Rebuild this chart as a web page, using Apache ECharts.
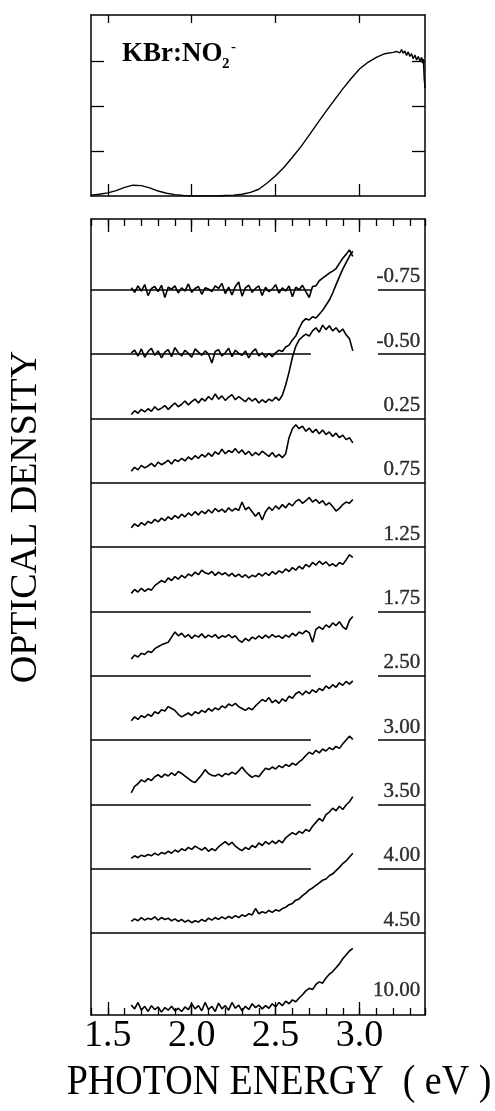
<!DOCTYPE html>
<html>
<head>
<meta charset="utf-8">
<script src="https://cdn.jsdelivr.net/npm/echarts@6/dist/echarts.min.js"></script>
<style>
html, body { margin: 0; padding: 0; background: #fff; }
#chart { width: 495px; height: 1111px; }
</style>
</head>
<body>
<div id="chart"></div>
<script>
// ---- top panel: absorption of KBr:NO2- ----
var topEnergy = [1.40, 1.45, 1.50, 1.55, 1.60, 1.65, 1.70, 1.75, 1.80, 1.85,
  1.90, 1.95, 2.00, 2.05, 2.10, 2.15, 2.20, 2.25, 2.30, 2.35,
  2.40, 2.45, 2.50, 2.55, 2.60, 2.65, 2.70, 2.75, 2.80, 2.85,
  2.90, 2.95, 3.00, 3.05, 3.10, 3.15, 3.20, 3.22, 3.24, 3.25,
  3.26, 3.27, 3.28, 3.29, 3.30, 3.31, 3.32, 3.33, 3.34, 3.35,
  3.36, 3.37, 3.375, 3.38, 3.385, 3.39];
var topOD = [0.02, 0.04, 0.07, 0.12, 0.19, 0.24, 0.23, 0.18, 0.11, 0.06,
  0.03, 0.01, 0.00, 0.00, 0.00, 0.00, 0.01, 0.02, 0.04, 0.08,
  0.15, 0.29, 0.45, 0.64, 0.86, 1.09, 1.35, 1.62, 1.88, 2.13,
  2.38, 2.61, 2.82, 2.97, 3.08, 3.16, 3.19, 3.21, 3.18, 3.25,
  3.17, 3.22, 3.12, 3.20, 3.10, 3.16, 3.05, 3.13, 3.02, 3.10,
  3.00, 3.08, 2.95, 3.04, 2.62, 2.40];

// ---- bottom panel: difference spectra after each dose ----
var energy = [1.64, 1.66, 1.68, 1.70, 1.72, 1.74, 1.76, 1.78, 1.80, 1.82,
  1.84, 1.86, 1.88, 1.90, 1.92, 1.94, 1.96, 1.98, 2.00, 2.02,
  2.04, 2.06, 2.08, 2.10, 2.12, 2.14, 2.16, 2.18, 2.20, 2.22,
  2.24, 2.26, 2.28, 2.30, 2.32, 2.34, 2.36, 2.38, 2.40, 2.42,
  2.44, 2.46, 2.48, 2.50, 2.52, 2.54, 2.56, 2.58, 2.60, 2.62,
  2.64, 2.66, 2.68, 2.70, 2.72, 2.74, 2.76, 2.78, 2.80, 2.82,
  2.84, 2.86, 2.88, 2.90, 2.92, 2.94, 2.96];

var doseLabels = ['-0.75', '-0.50', '0.25', '0.75', '1.25', '1.75',
  '2.50', '3.00', '3.50', '4.00', '4.50', '10.00'];

var odM075 = [3, -4, 6, -2, 8, -9, 2, 5, -3, 7,
  -12, 4, 1, 6, -5, 3, -2, 9, -4, 2,
  5, -7, 3, 1, -3, 6, 2, 10, -6, 4,
  -8, 5, 12, -10, 3, 7, -4, 2, 6, -9,
  4, -3, 1, 8, -5, 3, -2, 6, -11, 4,
  0, 7, -3, -12, 5, 6, 14, 18, 22, 26,
  29, 33, 41, 49, 55, 62, 52];
var odM050 = [2, 6, -3, 8, -5, 4, 9, -2, 5, -6,
  3, 7, -4, 10, 2, -3, 6, 1, -5, 8,
  3, -2, 5, 0, -14, 4, 7, -3, 2, 9,
  -4, 6, 1, -2, 5, -6, 3, 8, -3, 2,
  -5, 1, -4, 2, 6, 4, 11, 14, 22, 28,
  40, 50, 55, 53, 58, 56, 62, 68, 76, 84,
  95, 108, 120, 132, 142, 152, 160];
var od025 = [6, 12, 8, 14, 10, 15, 11, 18, 13, 16,
  20, 14, 19, 24, 18, 22, 27, 21, 26, 30,
  24, 31, 27, 34, 29, 38, 30, 35, 28, 33,
  37, 29, 34, 30, 26, 32, 27, 31, 24, 29,
  25, 30, 27, 33, 28, 36, 52, 72, 95, 112,
  122, 127, 131, 128, 136, 141, 134, 145, 138, 144,
  136, 141, 134, 139, 130, 124, 105];
var od075 = [18, 24, 20, 27, 23, 26, 30, 25, 32, 28,
  31, 35, 29, 36, 33, 38, 34, 40, 36, 42,
  38, 44, 40, 46, 41, 48, 44, 52, 45, 50,
  47, 53, 46, 51, 44, 49, 42, 47, 43, 49,
  45, 41, 47, 40, 44, 39, 45, 70, 84, 90,
  84, 88, 80, 85, 78, 83, 76, 82, 75, 79,
  72, 77, 70, 74, 67, 70, 62];
var od125 = [30, 36, 32, 38, 34, 40, 37, 43, 39, 45,
  41, 47, 43, 49, 45, 51, 47, 53, 49, 55,
  50, 56, 52, 58, 53, 60, 55, 59, 54, 61,
  56, 60, 57, 70, 58, 62, 55, 48, 54, 42,
  55, 62, 57, 64, 59, 66, 61, 68, 64, 71,
  74, 68, 72, 77, 70, 74, 68, 72, 65, 69,
  63, 56, 60, 66, 70, 68, 74];
var od175 = [28, 34, 30, 36, 31, 35, 33, 40, 44, 48,
  45, 52, 48, 54, 50, 56, 52, 58, 55, 61,
  57, 64, 60, 58, 62, 56, 61, 57, 60, 55,
  59, 54, 58, 53, 57, 52, 56, 54, 59, 55,
  60, 56, 62, 58, 63, 60, 66, 62, 68, 64,
  70, 66, 73, 69, 76, 72, 78, 73, 77, 71,
  74, 70, 76, 73, 80, 88, 84];
var od250 = [26, 32, 29, 35, 33, 38, 36, 42, 45, 48,
  50, 52, 60, 68, 62, 66, 60, 64, 58, 63,
  60, 65, 59, 63, 60, 64, 58, 62, 60, 64,
  59, 62, 55, 52, 58, 54, 60, 57, 62, 58,
  63, 59, 64, 60, 62, 58, 63, 60, 66, 62,
  68, 65, 70, 67, 52, 72, 76, 72, 79, 75,
  82, 78, 84, 76, 72, 86, 92];
var od300 = [30, 36, 32, 38, 35, 40, 37, 44, 41, 47,
  45, 52, 49, 46, 40, 36, 39, 42, 38, 44,
  41, 46, 43, 49, 45, 50, 47, 53, 50, 56,
  53, 57, 52, 49, 46, 50, 47, 53, 58, 63,
  60, 66, 58, 62, 57, 64, 60, 68, 65, 72,
  75, 70, 76, 72, 78, 74, 80, 77, 84, 80,
  86, 82, 89, 85, 91, 87, 92];
var od350 = [18, 28, 32, 38, 35, 40, 37, 43, 46, 42,
  47, 44, 49, 45, 51, 48, 44, 40, 36, 34,
  40, 46, 54, 48, 45, 44, 47, 43, 48, 46,
  50, 47, 52, 58, 51, 46, 42, 45, 43, 50,
  56, 54, 58, 55, 60, 57, 62, 59, 64, 61,
  66, 70, 76, 81, 78, 84, 80, 86, 83, 88,
  85, 90, 87, 94, 100, 106, 101];
var od400 = [16, 20, 17, 21, 19, 22, 20, 24, 21, 25,
  23, 27, 24, 29, 26, 31, 28, 33, 30, 35,
  32, 29, 33, 27, 31, 28, 34, 38, 42, 37,
  41, 35, 31, 28, 33, 30, 36, 33, 40, 36,
  42, 38, 43, 39, 44, 40, 48, 52, 56, 53,
  58, 55, 61, 58, 66, 72, 78, 74, 84, 88,
  94, 90, 97, 92, 99, 104, 112];
var od450 = [18, 22, 19, 24, 20, 23, 21, 25, 20, 24,
  21, 23, 19, 22, 18, 21, 17, 20, 16, 19,
  17, 21, 18, 23, 20, 24, 21, 25, 22, 26,
  23, 27, 24, 28, 26, 30, 28, 38, 30, 33,
  31, 35, 32, 36, 34, 38, 40, 44, 46, 51,
  53, 58, 62, 67, 70, 74, 78, 82, 84, 89,
  92, 97, 102, 108, 112, 118, 124];
var od1000 = [-2, -8, 2, -10, -4, -12, -3, -9, -5, -13,
  -6, -10, -4, -11, -7, -12, -5, -9, 0, -8,
  -3, -11, 2, -9, -4, -12, 1, -8, -3, -10,
  2, -7, -2, -11, -4, -9, 0, -6, -2, -8,
  -3, -7, 0, -5, 2, -3, 4, 0, 6, 3,
  9, 14, 20, 24, 22, 30, 34, 32, 40, 46,
  50, 56, 62, 70, 76, 82, 86];

var traces = [odM075, odM050, od025, od075, od125, od175,
  od250, od300, od350, od400, od450, od1000];

var xTicks = [1.5, 2.0, 2.5, 3.0];

// ---- layout ----
var serif = '"Liberation Serif", "DejaVu Serif", serif';
var X_MIN = 1.40, X_MAX = 3.39;
var ROW = 100;              // vertical offset between stacked spectra
var RULE_BREAK = [2.71, 3.11];
var fullRule = { 2: true, 3: true, 4: true, 10: true };
var LABEL_X = 3.365;

function level(i) {
  return i < 11 ? (11 - i) * ROW : -10;
}

function tick(len, values) {
  var t = { show: true, inside: true, length: len, lineStyle: { color: '#000', width: 1.3 } };
  if (values) t.customValues = values;
  return t;
}

function frameAxis(gridIndex, position, extra) {
  return Object.assign({
    type: 'value',
    gridIndex: gridIndex,
    position: position,
    axisLine: { show: true, onZero: false, lineStyle: { color: '#000', width: 1.5 } },
    axisTick: { show: false },
    axisLabel: { show: false },
    splitLine: { show: false }
  }, extra);
}

function xFrame(gridIndex, position, extra) {
  return frameAxis(gridIndex, position, Object.assign({ min: X_MIN, max: X_MAX }, extra));
}

var noLine = { show: false, onZero: false };

var series = [{
  type: 'line',
  xAxisIndex: 0,
  yAxisIndex: 0,
  symbol: 'none',
  lineStyle: { color: '#000', width: 1.4 },
  data: topEnergy.map(function (e, i) { return [e, topOD[i]]; })
}];

traces.forEach(function (tr, i) {
  var L = level(i);
  var s = {
    type: 'line',
    xAxisIndex: 2,
    yAxisIndex: 2,
    symbol: 'none',
    z: 3,
    lineStyle: { color: '#000', width: 1.6 },
    data: energy.map(function (e, j) { return [e, tr[j] + L]; })
  };
  if (i < 11) {
    var segs = fullRule[i]
      ? [[{ coord: [X_MIN, L] }, { coord: [X_MAX, L] }]]
      : [[{ coord: [X_MIN, L] }, { coord: [RULE_BREAK[0], L] }],
         [{ coord: [RULE_BREAK[1], L] }, { coord: [X_MAX, L] }]];
    s.markLine = {
      silent: true,
      symbol: 'none',
      label: { show: false },
      lineStyle: { color: '#000', width: 1.5, type: 'solid' },
      data: segs
    };
  }
  series.push(s);
});

series.push({
  type: 'scatter',
  xAxisIndex: 2,
  yAxisIndex: 2,
  symbolSize: 1,
  itemStyle: { color: 'rgba(0,0,0,0)' },
  z: 4,
  label: {
    show: true,
    formatter: '{b}',
    position: [0, 0],
    align: 'right',
    verticalAlign: 'bottom',
    offset: [0, -2],
    fontFamily: serif,
    fontSize: 21,
    color: '#000',
    textBorderColor: '#000',
    textBorderWidth: 0.4
  },
  data: doseLabels.map(function (t, i) { return { name: t, value: [LABEL_X, level(i)] }; })
});

var option = {
  animation: false,
  backgroundColor: '#fff',
  textStyle: { fontFamily: serif, color: '#000' },
  grid: [
    { left: 91, top: 15, width: 334, height: 181 },
    { left: 91, top: 219, width: 334, height: 796 }
  ],
  xAxis: [
    xFrame(0, 'bottom', { axisTick: tick(12, xTicks) }),
    xFrame(0, 'top', { axisTick: tick(8, xTicks) }),
    xFrame(1, 'bottom', { interval: 0.1, axisTick: tick(7) }),
    xFrame(1, 'bottom', {
      axisLine: noLine,
      axisTick: tick(13, xTicks),
      axisLabel: {
        show: true,
        customValues: xTicks,
        formatter: function (v) { return v.toFixed(1); },
        fontFamily: serif,
        fontSize: 38,
        color: '#000',
        margin: 2
      }
    }),
    xFrame(1, 'top', { interval: 0.1, axisTick: tick(7) }),
    xFrame(1, 'top', { axisLine: noLine, axisTick: tick(13, xTicks) })
  ],
  yAxis: [
    frameAxis(0, 'left', { min: 0, max: 4.02, axisTick: tick(13, [1, 2, 3]) }),
    frameAxis(0, 'right', { min: 0, max: 4.02, axisTick: tick(13, [1, 2, 3]) }),
    frameAxis(1, 'left', { min: -27.5, max: 1210 }),
    frameAxis(1, 'right', { min: -27.5, max: 1210 })
  ],
  graphic: [
    {
      type: 'text', x: 122, y: 54,
      style: { text: 'KBr:NO', fontFamily: serif, fontSize: 27, fontWeight: 'bold', fill: '#000', align: 'left', verticalAlign: 'middle' }
    },
    {
      type: 'text', x: 222, y: 64,
      style: { text: '2', fontFamily: serif, fontSize: 15, fontWeight: 'bold', fill: '#000', align: 'left', verticalAlign: 'middle' }
    },
    {
      type: 'text', x: 231, y: 47,
      style: { text: '-', fontFamily: serif, fontSize: 15, fontWeight: 'bold', fill: '#000', align: 'left', verticalAlign: 'middle' }
    },
    {
      type: 'text', x: 26, y: 517, rotation: Math.PI / 2,
      style: { text: 'OPTICAL DENSITY', fontFamily: serif, fontSize: 38, fill: '#000', align: 'center', verticalAlign: 'middle' }
    },
    {
      type: 'text', x: 279, y: 1083, scaleY: 1.12,
      style: { text: 'PHOTON ENERGY  ( eV )', fontFamily: serif, fontSize: 38, fill: '#000', align: 'center', verticalAlign: 'middle' }
    }
  ],
  series: series
};

var chart = echarts.init(document.getElementById('chart'));
chart.setOption(option);
</script>
</body>
</html>
